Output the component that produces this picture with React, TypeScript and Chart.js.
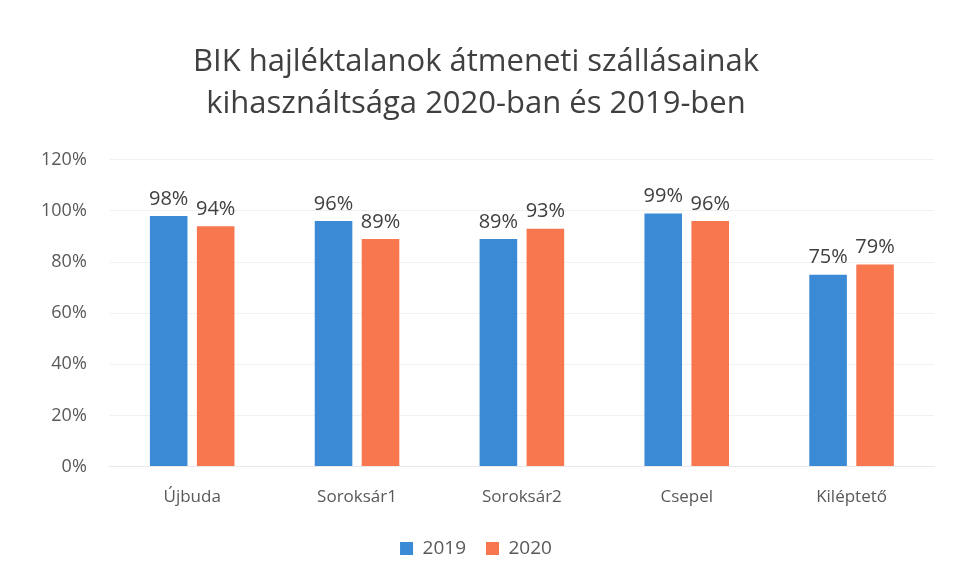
import React, { useEffect, useRef } from "react";
import { Chart, registerables } from "chart.js";

Chart.register(...registerables);

const categories = ["Újbuda", "Soroksár1", "Soroksár2", "Csepel", "Kiléptető"];
const values2019 = [98, 96, 89, 99, 75];
const values2020 = [94, 89, 93, 96, 79];
const titleLines = ["BIK hajléktalanok átmeneti szállásainak", "kihasználtsága 2020-ban és 2019-ben"];

const FONT = "'Open Sans', sans-serif";

const valueLabels = {
  id: "valueLabels",
  afterDatasetsDraw(chart: any) {
    const ctx = chart.ctx;
    ctx.save();
    ctx.font = `20px ${FONT}`;
    ctx.fillStyle = "#404040";
    ctx.textAlign = "center";
    ctx.textBaseline = "bottom";
    chart.data.datasets.forEach((ds: any, di: number) => {
      const meta = chart.getDatasetMeta(di);
      meta.data.forEach((bar: any, i: number) => {
        ctx.fillText(ds.data[i] + "%", bar.x, bar.y - 7);
      });
    });
    ctx.restore();
  },
};

export default function App() {
  const ref = useRef<HTMLCanvasElement>(null);
  useEffect(() => {
    document.body.style.margin = "0";
    const chart = new Chart(ref.current!, {
      type: "bar",
      data: {
        labels: categories,
        datasets: [
          { label: "2019", data: values2019, backgroundColor: "#3a8ad6" },
          { label: "2020", data: values2020, backgroundColor: "#f9774f" },
        ],
      },
      options: {
        animation: false,
        responsive: false,
        layout: { padding: { left: 18, right: 19, top: 41, bottom: 11 } },
        datasets: { bar: { categoryPercentage: 0.57, barPercentage: 0.8 } },
        plugins: {
          title: {
            display: true,
            text: titleLines,
            color: "#404040",
            font: { family: FONT, size: 31, weight: "normal", lineHeight: 1.35 },
            padding: { top: 0, bottom: 35 },
          },
          legend: {
            position: "bottom",
            labels: {
              color: "#595959",
              font: { family: FONT, size: 19 },
              boxWidth: 13,
              boxHeight: 13,
              padding: 20,
            },
          },
          tooltip: { enabled: false },
        },
        scales: {
          y: {
            min: 0,
            max: 120,
            ticks: {
              stepSize: 20,
              color: "#595959",
              font: { family: FONT, size: 18 },
              callback: (v: any) => v + "%",
              padding: 23,
            },
            grid: { color: "#f1f1f1", drawTicks: false },
            border: { display: false },
          },
          x: {
            ticks: { color: "#595959", font: { family: FONT, size: 17 }, padding: 12 },
            grid: { display: false },
            border: { color: "#e8e8e8" },
          },
        },
      },
      plugins: [valueLabels],
    });
    return () => chart.destroy();
  }, []);
  return (
    <div style={{ width: 953, height: 579, background: "#fff" }}>
      <canvas ref={ref} width={953} height={579} />
    </div>
  );
}
